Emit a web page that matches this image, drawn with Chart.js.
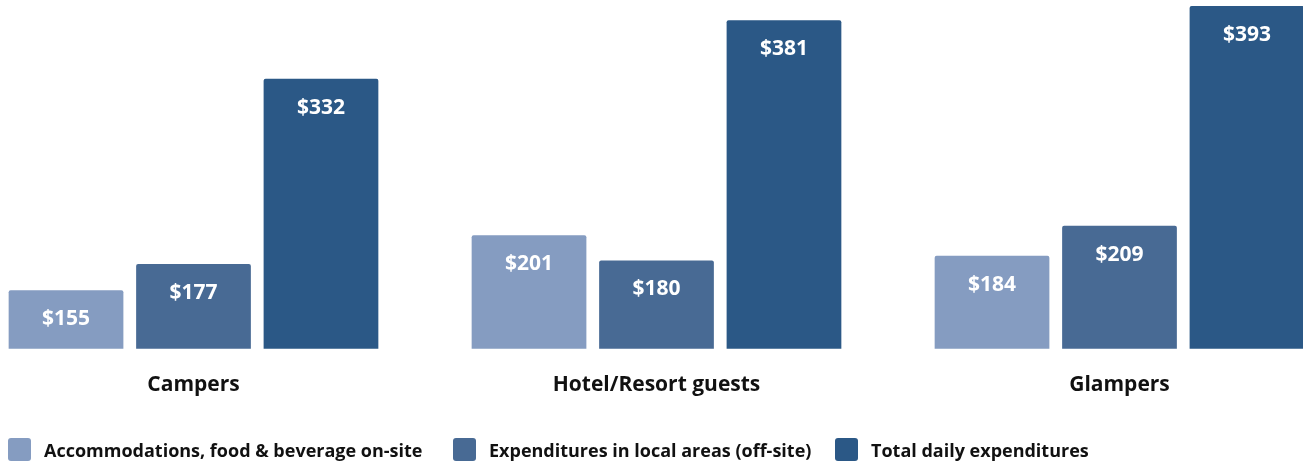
<!DOCTYPE html>
<html>
<head>
<meta charset="utf-8">
<script src="https://cdn.jsdelivr.net/npm/chart.js@4/dist/chart.umd.min.js"></script>
<style>
  html, body { margin: 0; padding: 0; background: #fff; overflow: hidden; width: 1303px; height: 463px; }
  #wrap { position: absolute; left: -38px; top: 0; width: 1389px; height: 463px; }
  .leg { position: absolute; top: 438px; height: 23px; display: flex; align-items: center;
         font-family: "Open Sans", Lato, sans-serif; font-weight: 700; font-size: 18px; color: #111; white-space: nowrap; }
  .leg span.box { display: inline-block; width: 23px; height: 23px; border-radius: 3px; margin-right: 13px; }
</style>
</head>
<body>
<div id="wrap"><canvas id="c"></canvas></div>
<div id="legend"></div>
<script>
const categories = ["Campers", "Hotel/Resort guests", "Glampers"];
const seriesNames = ["Accommodations, food & beverage on-site", "Expenditures in local areas (off-site)", "Total daily expenditures"];
const onSite = [155, 201, 184];
const offSite = [177, 180, 209];
const totalDaily = [332, 381, 393];
const colors = ["#859cc1", "#486a94", "#2b5886"];
const legendLeft = [8, 453, 835];

const valueLabels = {
  id: 'valueLabels',
  afterDatasetsDraw(chart) {
    const ctx = chart.ctx;
    ctx.save();
    ctx.fillStyle = '#ffffff';
    ctx.font = '700 21px "Open Sans", Lato, sans-serif';
    ctx.textAlign = 'center';
    ctx.textBaseline = 'middle';
    chart.data.datasets.forEach((ds, i) => {
      const meta = chart.getDatasetMeta(i);
      meta.data.forEach((el, j) => {
        ctx.fillText('$' + ds.data[j], el.x, el.y + 29);
      });
    });
    ctx.restore();
  }
};

new Chart(document.getElementById('c'), {
  type: 'bar',
  data: {
    labels: categories,
    datasets: [
      { label: seriesNames[0], data: onSite, backgroundColor: colors[0] },
      { label: seriesNames[1], data: offSite, backgroundColor: colors[1] },
      { label: seriesNames[2], data: totalDaily, backgroundColor: colors[2] }
    ]
  },
  options: {
    responsive: true,
    maintainAspectRatio: false,
    animation: false,
    layout: { padding: { top: 0, bottom: 49, left: 0, right: 0 } },
    datasets: { bar: { categoryPercentage: 0.826, barPercentage: 0.9, borderRadius: 2, borderSkipped: false } },
    plugins: { legend: { display: false }, tooltip: { enabled: false } },
    scales: {
      x: {
        grid: { display: false }, border: { display: false },
        ticks: { color: '#111', padding: 16, font: { family: '"Open Sans", Lato, sans-serif', weight: '700', size: 21 } }
      },
      y: { display: false, min: 106, max: 398 }
    }
  },
  plugins: [valueLabels]
});

const lg = document.getElementById('legend');
seriesNames.forEach((n, i) => {
  const d = document.createElement('div');
  d.className = 'leg';
  d.style.left = legendLeft[i] + 'px';
  d.innerHTML = '<span class="box" style="background:' + colors[i] + '"></span>' + n;
  lg.appendChild(d);
});
</script>
</body>
</html>
